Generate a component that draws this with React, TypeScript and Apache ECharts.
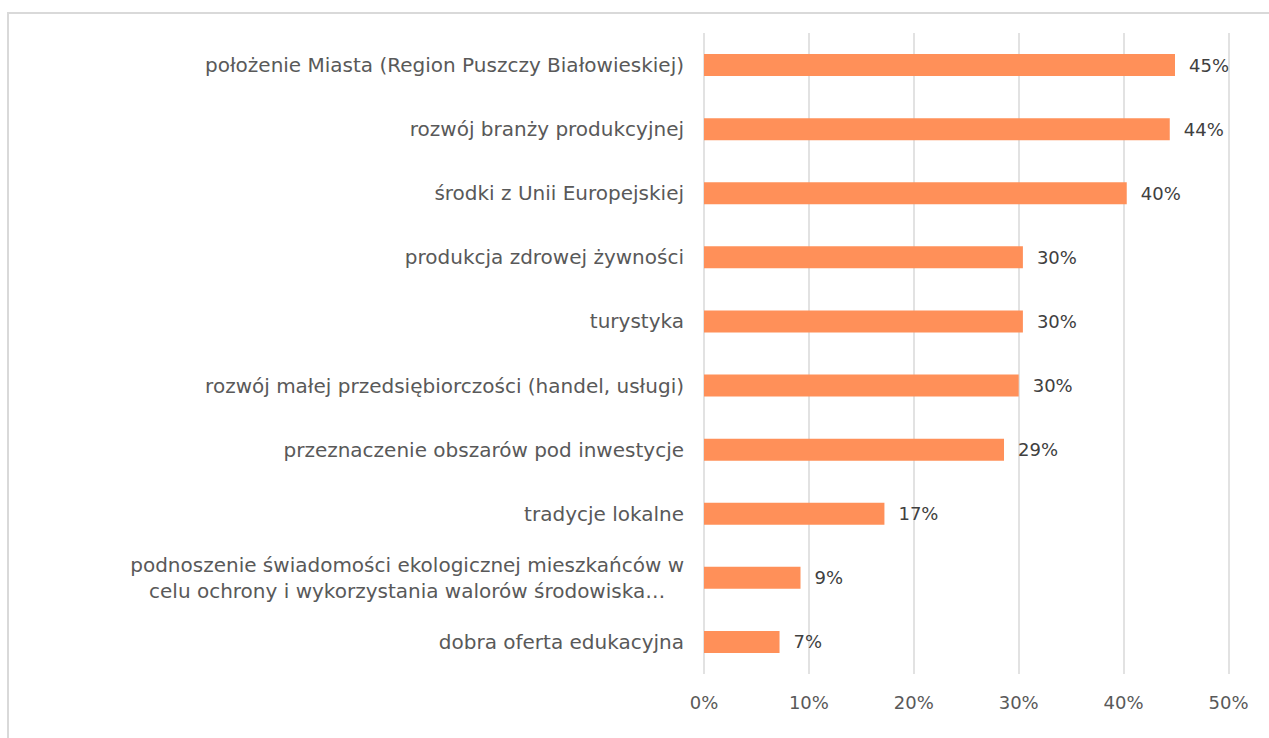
import React, { useEffect, useRef } from "react";
import * as echarts from "echarts";

const categories = [
  "położenie Miasta (Region Puszczy Białowieskiej)",
  "rozwój branży produkcyjnej",
  "środki z Unii Europejskiej",
  "produkcja zdrowej żywności",
  "turystyka",
  "rozwój małej przedsiębiorczości (handel, usługi)",
  "przeznaczenie obszarów pod inwestycje",
  "tradycje lokalne",
  "podnoszenie świadomości ekologicznej mieszkańców w\ncelu ochrony i wykorzystania walorów środowiska…",
  "dobra oferta edukacyjna",
];
const values = [44.9, 44.4, 40.3, 30.4, 30.4, 30.0, 28.6, 17.2, 9.2, 7.2];
const xTicks = { min: 0, max: 50, interval: 10 };

const FONT = "DejaVu Sans";

export default function App() {
  const ref = useRef<HTMLDivElement>(null);
  useEffect(() => {
    if (!ref.current) return;
    const chart = echarts.init(ref.current, undefined, { renderer: "svg" });
    chart.setOption({
      animation: false,
      backgroundColor: "#ffffff",
      graphic: [
        {
          type: "rect",
          shape: { x: 8, y: 13, width: 1400, height: 900 },
          style: { fill: "none", stroke: "#d9d9d9", lineWidth: 2 },
          silent: true,
        },
      ],
      grid: { left: 704, right: 40.5, top: 33, bottom: 64, containLabel: false },
      xAxis: {
        type: "value",
        min: xTicks.min,
        max: xTicks.max,
        interval: xTicks.interval,
        axisLine: { show: false },
        axisTick: { show: false },
        splitLine: { show: true, lineStyle: { color: "#d9d9d9", width: 1.5 } },
        axisLabel: {
          formatter: "{value}%",
          color: "#595959",
          fontFamily: FONT,
          fontSize: 18,
          margin: 19,
        },
      },
      yAxis: {
        type: "category",
        inverse: true,
        data: categories,
        axisLine: { show: false },
        axisTick: { show: false },
        axisLabel: {
          color: "#595959",
          fontFamily: FONT,
          fontSize: 20,
          margin: 20,
          formatter: (v: string) => (v.includes("\n") ? `{c|${v}}` : v),
          rich: {
            c: {
              align: "center",
              color: "#595959",
              fontFamily: FONT,
              fontSize: 20,
              lineHeight: 26,
            },
          },
        },
      },
      series: [
        {
          type: "bar",
          data: values,
          barWidth: 22,
          itemStyle: { color: "#ff9059" },
          label: {
            show: true,
            position: "right",
            distance: 14,
            color: "#404040",
            fontFamily: FONT,
            fontSize: 18,
            formatter: (p: any) => `${Math.round(p.value)}%`,
          },
        },
      ],
    });
    return () => chart.dispose();
  }, []);
  return (
    <div
      ref={ref}
      style={{ position: "fixed", left: 0, top: 0, width: 1269, height: 738 }}
    />
  );
}
